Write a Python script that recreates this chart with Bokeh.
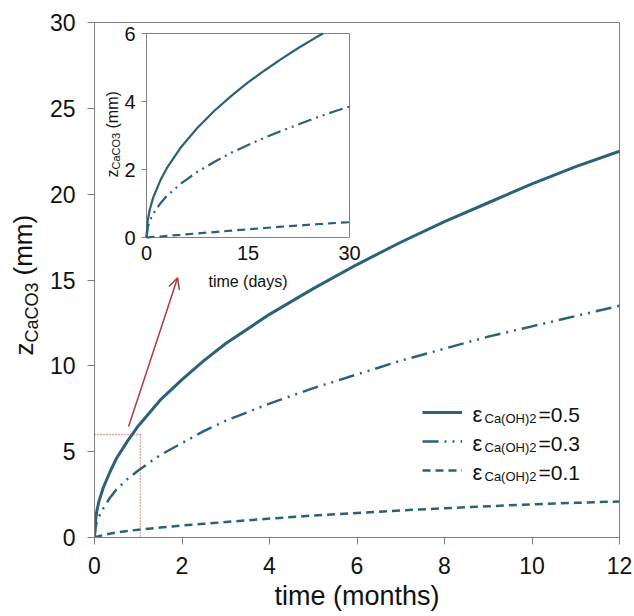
import math
from bokeh.plotting import figure
from bokeh.models import Range1d, Label, Legend, LegendItem, Arrow, OpenHead, FixedTicker, Title
from bokeh.core.properties import value
from bokeh.embed import file_html
from bokeh.resources import INLINE

# ---------------- data ----------------
t_months = [0, 0.02, 0.05, 0.1, 0.2, 0.35, 0.5, 0.75, 1, 1.5, 2, 2.5, 3, 4, 5, 6, 7, 8, 9, 10, 11, 12]
z_eps05 = [0, 0.9, 1.5, 2.1, 2.9, 3.8, 4.6, 5.6, 6.5, 8.0, 9.2, 10.3, 11.3, 13.0, 14.5, 15.9, 17.2, 18.4, 19.5, 20.6, 21.6, 22.5]
z_eps03 = [0, 0.55, 0.9, 1.2, 1.7, 2.3, 2.8, 3.4, 3.9, 4.8, 5.5, 6.2, 6.8, 7.8, 8.7, 9.5, 10.3, 11.0, 11.7, 12.3, 12.9, 13.5]
z_eps01 = [0, 0.02, 0.05, 0.08, 0.14, 0.22, 0.3, 0.38, 0.45, 0.58, 0.7, 0.8, 0.9, 1.1, 1.28, 1.43, 1.58, 1.7, 1.82, 1.93, 2.02, 2.1]

# inset (days); the eps=0.5 curve leaves the inset's top at about 26 days
t_days_05 = [0, 0.2, 0.5, 1, 2, 3, 5, 7.5, 10, 12.5, 15, 17.5, 20, 22.5, 25, 26.1]
zi_eps05 = [0, 0.53, 0.83, 1.18, 1.66, 2.04, 2.63, 3.22, 3.72, 4.16, 4.56, 4.92, 5.26, 5.58, 5.88, 6.0]
t_days = [0, 0.2, 0.5, 1, 2, 3, 5, 7.5, 10, 12.5, 15, 17.5, 20, 22.5, 25, 27.5, 30]
zi_eps03 = [0, 0.31, 0.5, 0.7, 0.99, 1.22, 1.57, 1.93, 2.22, 2.49, 2.72, 2.94, 3.14, 3.33, 3.52, 3.69, 3.85]
zi_eps01 = [0, 0.0, 0.01, 0.02, 0.03, 0.05, 0.08, 0.12, 0.16, 0.2, 0.24, 0.28, 0.32, 0.35, 0.39, 0.42, 0.45]

eps_labels = ["0.5", "0.3", "0.1"]

main_xticks = [0, 2, 4, 6, 8, 10, 12]
main_yticks = [0, 5, 10, 15, 20, 25, 30]
inset_xticks = [0, 15, 30]
inset_yticks = [0, 2, 4, 6]

zoom_box_x = [0, 1.05, 1.05]
zoom_box_y = [6, 6, 0]
arrow_x = [0.78, 1.9]
arrow_y = [6.47, 15.13]

# ---------------- style / geometry ----------------
TEAL = "#2b6276"
RED_BOX = "#c0504d"
RED_ARROW = "#a83c40"
AX = "#808080"
TXT = "#111111"
FONT = "Liberation Sans"
DASHDOT = "16 6 2 6 2 6"
DASH = "8 5"
ang = math.pi / 2

W, H = 634, 616
# main frame in canvas pixels
FL, FR, FT, FB = 94, 619, 22, 537
# inset frame in canvas pixels
IL, IR, IT, IB = 146, 349, 33, 237

main = figure(width=W, height=H, x_range=Range1d(0, 12), y_range=Range1d(0, 30),
              output_backend="svg", toolbar_location=None,
              min_border_left=FL, min_border_right=W - FR, min_border_top=FT,
              min_border_bottom=H - FB)
main.outline_line_color = AX
main.xgrid.grid_line_color = None
main.ygrid.grid_line_color = None
main.xaxis.ticker = FixedTicker(ticks=main_xticks)
main.yaxis.ticker = FixedTicker(ticks=main_yticks)
for ax in (main.xaxis[0], main.yaxis[0]):
    ax.axis_line_color = AX
    ax.major_tick_line_color = AX
    ax.major_tick_out = 7
    ax.major_tick_in = 0
    ax.minor_tick_line_color = None
    ax.major_label_text_font = FONT
    ax.major_label_text_font_size = "23px"
    ax.major_label_text_color = TXT
main.yaxis.major_label_standoff = 12
main.xaxis.major_label_standoff = 12
main.xaxis.axis_label = "time (months)"
main.xaxis.axis_label_text_font = FONT
main.xaxis.axis_label_text_font_size = "27px"
main.xaxis.axis_label_text_font_style = "normal"
main.xaxis.axis_label_text_color = TXT
main.xaxis.axis_label_standoff = 4

# ---- main y label  z_CaCO3 (mm)  built from titles in the left panel ----
def side_title(text, size, offset, standoff):
    kw = dict(text=text, align="left", vertical_align="middle", offset=offset,
              text_font=FONT, text_font_size=size, text_font_style="normal", text_color=TXT)
    try:
        t = Title(standoff=standoff, **kw)
    except Exception:
        t = Title(standoff=0, **kw)
    main.add_layout(t, "left")

side_title("\u00a0", "1px", 0, 4)              # spacer next to the tick labels
side_title("CaCO3", "18px", FB - 342, -6.6)     # subscript
side_title("z", "26px", FB - 355, -31)          # main letter
side_title("(mm)", "26px", FB - 275, -31)       # unit

# main curves
r1 = main.line(t_months, z_eps05, line_color=TEAL, line_width=3)
r2 = main.line(t_months, z_eps03, line_color=TEAL, line_width=2.5, line_dash=DASHDOT)
r3 = main.line(t_months, z_eps01, line_color=TEAL, line_width=2.5, line_dash=DASH)

# zoom box and arrow
main.line(zoom_box_x, zoom_box_y, line_color=RED_BOX, line_width=1.3, line_dash="1 2")
main.add_layout(Arrow(end=OpenHead(size=11, line_color=RED_ARROW, line_width=1.5),
                      x_start=arrow_x[0], y_start=arrow_y[0], x_end=arrow_x[1], y_end=arrow_y[1],
                      line_color=RED_ARROW, line_width=1.5))

# legend (glyphs by Bokeh, texts with subscripts as labels)
legend = Legend(items=[LegendItem(label=" ", renderers=[r]) for r in (r1, r2, r3)],
                location=(422 - FL, FB - 484), glyph_width=40, glyph_height=28, label_height=28,
                spacing=1, padding=0, margin=0, border_line_color=None,
                background_fill_alpha=0, label_text_font_size="2px", label_standoff=0, label_width=1)
main.add_layout(legend)

def mx(px):
    return (px - FL) / ((FR - FL) / 12)

def my(py):
    return (FB - py) / ((FB - FT) / 30)

row_base = [413.5, 443, 471.5]
for lab, b in zip(eps_labels, row_base):
    main.add_layout(Label(x=mx(472), y=my(b), text="ε", text_font=FONT, text_font_size="22px",
                          text_color=TXT, text_baseline="alphabetic", text_align="left"))
    main.add_layout(Label(x=mx(484), y=my(b + 4), text="Ca(OH)2", text_font=FONT, text_font_size="13px",
                          text_color=TXT, text_baseline="alphabetic", text_align="left"))
    main.add_layout(Label(x=mx(538), y=my(b), text="=" + lab, text_font=FONT, text_font_size="21px",
                          text_color=TXT, text_baseline="alphabetic", text_align="left"))

# inset y label with subscript, rotated
for px, py, text, size in ((112, 177, "z", "16px"), (115, 169, "CaCO3", "11px"), (112, 128, "(mm)", "16px")):
    main.add_layout(Label(x=mx(px), y=my(py), text=text, angle=ang, text_font=FONT, text_font_size=size,
                          text_color=TXT, text_baseline="alphabetic", text_align="left"))

# ---------------- inset, drawn inside the main frame on its own ranges ----------------
ipx_x = (IR - IL) / 30.0
ipx_y = (IB - IT) / 6.0
main.extra_x_ranges = {"ix": Range1d(-(IL - FL) / ipx_x, (FR - IL) / ipx_x)}
main.extra_y_ranges = {"iy": Range1d(-(FB - IB) / ipx_y, (IB - FT) / ipx_y)}

main.quad(left=[inset_xticks[0]], right=[inset_xticks[-1]], bottom=[inset_yticks[0]], top=[inset_yticks[-1]],
          fill_color="white", line_color=AX, line_width=1, x_range_name="ix", y_range_name="iy")

tick_len = 5 / ipx_x
main.segment(x0=[0] * len(inset_yticks), y0=inset_yticks, x1=[-tick_len] * len(inset_yticks), y1=inset_yticks,
             line_color=AX, line_width=1, x_range_name="ix", y_range_name="iy")
main.text(x=[-11 / ipx_x] * len(inset_yticks), y=inset_yticks, text=[str(v) for v in inset_yticks],
          text_font=value(FONT), text_font_size=value("20px"), text_color=TXT,
          text_align="right", text_baseline="middle", x_range_name="ix", y_range_name="iy")
main.text(x=inset_xticks, y=[-8 / ipx_y] * len(inset_xticks), text=[str(v) for v in inset_xticks],
          text_font=value(FONT), text_font_size=value("20px"), text_color=TXT,
          text_align="center", text_baseline="top", x_range_name="ix", y_range_name="iy")
main.add_layout(Label(x=15, y=-(281 - IB) / ipx_y, x_range_name="ix", y_range_name="iy",
                      text="time (days)", text_font=FONT, text_font_size="16px", text_color=TXT,
                      text_align="center", text_baseline="alphabetic"))

main.line(t_days_05, zi_eps05, line_color=TEAL, line_width=2.2, x_range_name="ix", y_range_name="iy")
main.line(t_days, zi_eps03, line_color=TEAL, line_width=2.2, line_dash="14 5 2 5 2 5",
          x_range_name="ix", y_range_name="iy")
main.line(t_days, zi_eps01, line_color=TEAL, line_width=2.2, line_dash=DASH,
          x_range_name="ix", y_range_name="iy")

open("out.html", "w").write(file_html(main, INLINE))
